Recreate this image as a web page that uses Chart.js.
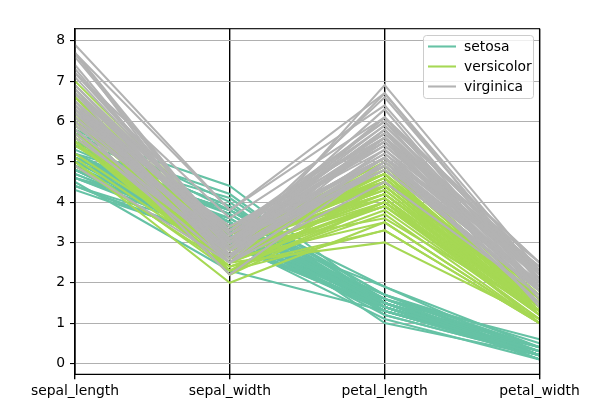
<!DOCTYPE html>
<html>
<head>
<meta charset="utf-8">
<script src="https://cdn.jsdelivr.net/npm/chart.js@4/dist/chart.umd.min.js"></script>
<style>
  html, body { margin: 0; padding: 0; background: #fff; }
  #wrap { width: 600px; height: 400px; }
</style>
</head>
<body>
<div id="wrap"><canvas id="chart" width="600" height="400"></canvas></div>
<script>
// Iris data, columns in plot order
const columns = ['sepal_length', 'sepal_width', 'petal_length', 'petal_width'];
const species = ['setosa', 'versicolor', 'virginica'];
const speciesColors = ['#66c2a5', '#a6d854', '#b3b3b3'];
const yTicks = [0, 1, 2, 3, 4, 5, 6, 7, 8];

const setosa = [
  [5.1,3.5,1.4,0.2],[4.9,3.0,1.4,0.2],[4.7,3.2,1.3,0.2],[4.6,3.1,1.5,0.2],[5.0,3.6,1.4,0.2],
  [5.4,3.9,1.7,0.4],[4.6,3.4,1.4,0.3],[5.0,3.4,1.5,0.2],[4.4,2.9,1.4,0.2],[4.9,3.1,1.5,0.1],
  [5.4,3.7,1.5,0.2],[4.8,3.4,1.6,0.2],[4.8,3.0,1.4,0.1],[4.3,3.0,1.1,0.1],[5.8,4.0,1.2,0.2],
  [5.7,4.4,1.5,0.4],[5.4,3.9,1.3,0.4],[5.1,3.5,1.4,0.3],[5.7,3.8,1.7,0.3],[5.1,3.8,1.5,0.3],
  [5.4,3.4,1.7,0.2],[5.1,3.7,1.5,0.4],[4.6,3.6,1.0,0.2],[5.1,3.3,1.7,0.5],[4.8,3.4,1.9,0.2],
  [5.0,3.0,1.6,0.2],[5.0,3.4,1.6,0.4],[5.2,3.5,1.5,0.2],[5.2,3.4,1.4,0.2],[4.7,3.2,1.6,0.2],
  [4.8,3.1,1.6,0.2],[5.4,3.4,1.5,0.4],[5.2,4.1,1.5,0.1],[5.5,4.2,1.4,0.2],[4.9,3.1,1.5,0.1],
  [5.0,3.2,1.2,0.2],[5.5,3.5,1.3,0.2],[4.9,3.1,1.5,0.1],[4.4,3.0,1.3,0.2],[5.1,3.4,1.5,0.2],
  [5.0,3.5,1.3,0.3],[4.5,2.3,1.3,0.3],[4.4,3.2,1.3,0.2],[5.0,3.5,1.6,0.6],[5.1,3.8,1.9,0.4],
  [4.8,3.0,1.4,0.3],[5.1,3.8,1.6,0.2],[4.6,3.2,1.4,0.2],[5.3,3.7,1.5,0.2],[5.0,3.3,1.4,0.2]
];

const versicolor = [
  [7.0,3.2,4.7,1.4],[6.4,3.2,4.5,1.5],[6.9,3.1,4.9,1.5],[5.5,2.3,4.0,1.3],[6.5,2.8,4.6,1.5],
  [5.7,2.8,4.5,1.3],[6.3,3.3,4.7,1.6],[4.9,2.4,3.3,1.0],[6.6,2.9,4.6,1.3],[5.2,2.7,3.9,1.4],
  [5.0,2.0,3.5,1.0],[5.9,3.0,4.2,1.5],[6.0,2.2,4.0,1.0],[6.1,2.9,4.7,1.4],[5.6,2.9,3.6,1.3],
  [6.7,3.1,4.4,1.4],[5.6,3.0,4.5,1.5],[5.8,2.7,4.1,1.0],[6.2,2.2,4.5,1.5],[5.6,2.5,3.9,1.1],
  [5.9,3.2,4.8,1.8],[6.1,2.8,4.0,1.3],[6.3,2.5,4.9,1.5],[6.1,2.8,4.7,1.2],[6.4,2.9,4.3,1.3],
  [6.6,3.0,4.4,1.4],[6.8,2.8,4.8,1.4],[6.7,3.0,5.0,1.7],[6.0,2.9,4.5,1.5],[5.7,2.6,3.5,1.0],
  [5.5,2.4,3.8,1.1],[5.5,2.4,3.7,1.0],[5.8,2.7,3.9,1.2],[6.0,2.7,5.1,1.6],[5.4,3.0,4.5,1.5],
  [6.0,3.4,4.5,1.6],[6.7,3.1,4.7,1.5],[6.3,2.3,4.4,1.3],[5.6,3.0,4.1,1.3],[5.5,2.5,4.0,1.3],
  [5.5,2.6,4.4,1.2],[6.1,3.0,4.6,1.4],[5.8,2.6,4.0,1.2],[5.0,2.3,3.3,1.0],[5.6,2.7,4.2,1.3],
  [5.7,3.0,4.2,1.2],[5.7,2.9,4.2,1.3],[6.2,2.9,4.3,1.3],[5.1,2.5,3.0,1.1],[5.7,2.8,4.1,1.3]
];

const virginica = [
  [6.3,3.3,6.0,2.5],[5.8,2.7,5.1,1.9],[7.1,3.0,5.9,2.1],[6.3,2.9,5.6,1.8],[6.5,3.0,5.8,2.2],
  [7.6,3.0,6.6,2.1],[4.9,2.5,4.5,1.7],[7.3,2.9,6.3,1.8],[6.7,2.5,5.8,1.8],[7.2,3.6,6.1,2.5],
  [6.5,3.2,5.1,2.0],[6.4,2.7,5.3,1.9],[6.8,3.0,5.5,2.1],[5.7,2.5,5.0,2.0],[5.8,2.8,5.1,2.4],
  [6.4,3.2,5.3,2.3],[6.5,3.0,5.5,1.8],[7.7,3.8,6.7,2.2],[7.7,2.6,6.9,2.3],[6.0,2.2,5.0,1.5],
  [6.9,3.2,5.7,2.3],[5.6,2.8,4.9,2.0],[7.7,2.8,6.7,2.0],[6.3,2.7,4.9,1.8],[6.7,3.3,5.7,2.1],
  [7.2,3.2,6.0,1.8],[6.2,2.8,4.8,1.8],[6.1,3.0,4.9,1.8],[6.4,2.8,5.6,2.1],[7.2,3.0,5.8,1.6],
  [7.4,2.8,6.1,1.9],[7.9,3.8,6.4,2.0],[6.4,2.8,5.6,2.2],[6.3,2.8,5.1,1.5],[6.1,2.6,5.6,1.4],
  [7.7,3.0,6.1,2.3],[6.3,3.4,5.6,2.4],[6.4,3.1,5.5,1.8],[6.0,3.0,4.8,1.8],[6.9,3.1,5.4,2.1],
  [6.7,3.1,5.6,2.4],[6.9,3.1,5.1,2.3],[5.8,2.7,5.1,1.9],[6.8,3.2,5.9,2.3],[6.7,3.3,5.7,2.5],
  [6.7,3.0,5.2,2.3],[6.3,2.5,5.0,1.9],[6.5,3.0,5.2,2.0],[6.2,3.4,5.4,2.3],[5.9,3.0,5.1,1.8]
];

const FONT = { family: "'DejaVu Sans', sans-serif", size: 13.9 };
const LINE_W = 2.08; // 1.5pt at 100 dpi

// one line per flower; later species drawn on top (lower order = on top)
const groups = [setosa, versicolor, virginica];
const datasets = [];
groups.forEach((rows, s) => {
  rows.forEach(row => {
    datasets.push({
      label: species[s],
      data: row.map((v, i) => ({ x: i, y: v })),
      borderColor: speciesColors[s],
      borderWidth: LINE_W,
      pointRadius: 0,
      tension: 0,
      fill: false,
      order: 2 - s
    });
  });
});

// matplotlib style frame + legend
const framePlugin = {
  id: 'frame',
  afterDraw(chart) {
    const { ctx, chartArea: a } = chart;
    ctx.save();
    ctx.strokeStyle = '#000';
    ctx.lineWidth = 1.1;
    ctx.strokeRect(a.left, a.top, a.right - a.left, a.bottom - a.top);

    // legend box
    const bx = 423.5, by = 35.5, bw = 110, bh = 63;
    ctx.fillStyle = 'rgba(255,255,255,0.8)';
    ctx.strokeStyle = '#cccccc';
    ctx.lineWidth = 1;
    ctx.beginPath();
    ctx.roundRect(bx, by, bw, bh, 3);
    ctx.fill();
    ctx.stroke();

    ctx.font = `${FONT.size}px ${FONT.family}`;
    ctx.textBaseline = 'middle';
    species.forEach((name, i) => {
      const yy = 46.5 + i * 20;
      ctx.strokeStyle = speciesColors[i];
      ctx.lineWidth = LINE_W;
      ctx.beginPath();
      ctx.moveTo(428, yy);
      ctx.lineTo(456, yy);
      ctx.stroke();
      ctx.fillStyle = '#000';
      ctx.fillText(name, 464, yy + 1);
    });
    ctx.restore();
  }
};

new Chart(document.getElementById('chart'), {
  type: 'line',
  data: { datasets },
  options: {
    responsive: false,
    animation: false,
    layout: { padding: { top: 28.7, right: 60.5, bottom: 0, left: 0 } },
    plugins: {
      legend: { display: false },
      tooltip: { enabled: false }
    },
    scales: {
      x: {
        type: 'linear',
        min: 0,
        max: columns.length - 1,
        afterBuildTicks: scale => { scale.ticks = columns.map((c, i) => ({ value: i })); },
        afterFit: scale => { scale.height = 25.7; },
        ticks: {
          callback: v => columns[v],
          color: '#000',
          font: FONT,
          padding: 4,
          maxRotation: 0,
          autoSkip: false
        },
        grid: { color: '#000', lineWidth: 1.39, tickLength: 5, tickColor: '#000' },
        border: { color: '#000', width: 1.1 }
      },
      y: {
        min: -0.27,
        max: 8.3,
        afterBuildTicks: scale => { scale.ticks = yTicks.map(v => ({ value: v })); },
        afterFit: scale => { scale.width = 75; },
        ticks: { color: '#000', font: FONT, padding: 5 },
        grid: { color: '#b0b0b0', lineWidth: 1.1, tickLength: 5, tickColor: '#000' },
        border: { color: '#000', width: 1.1 }
      }
    }
  },
  plugins: [framePlugin]
});
</script>
</body>
</html>
